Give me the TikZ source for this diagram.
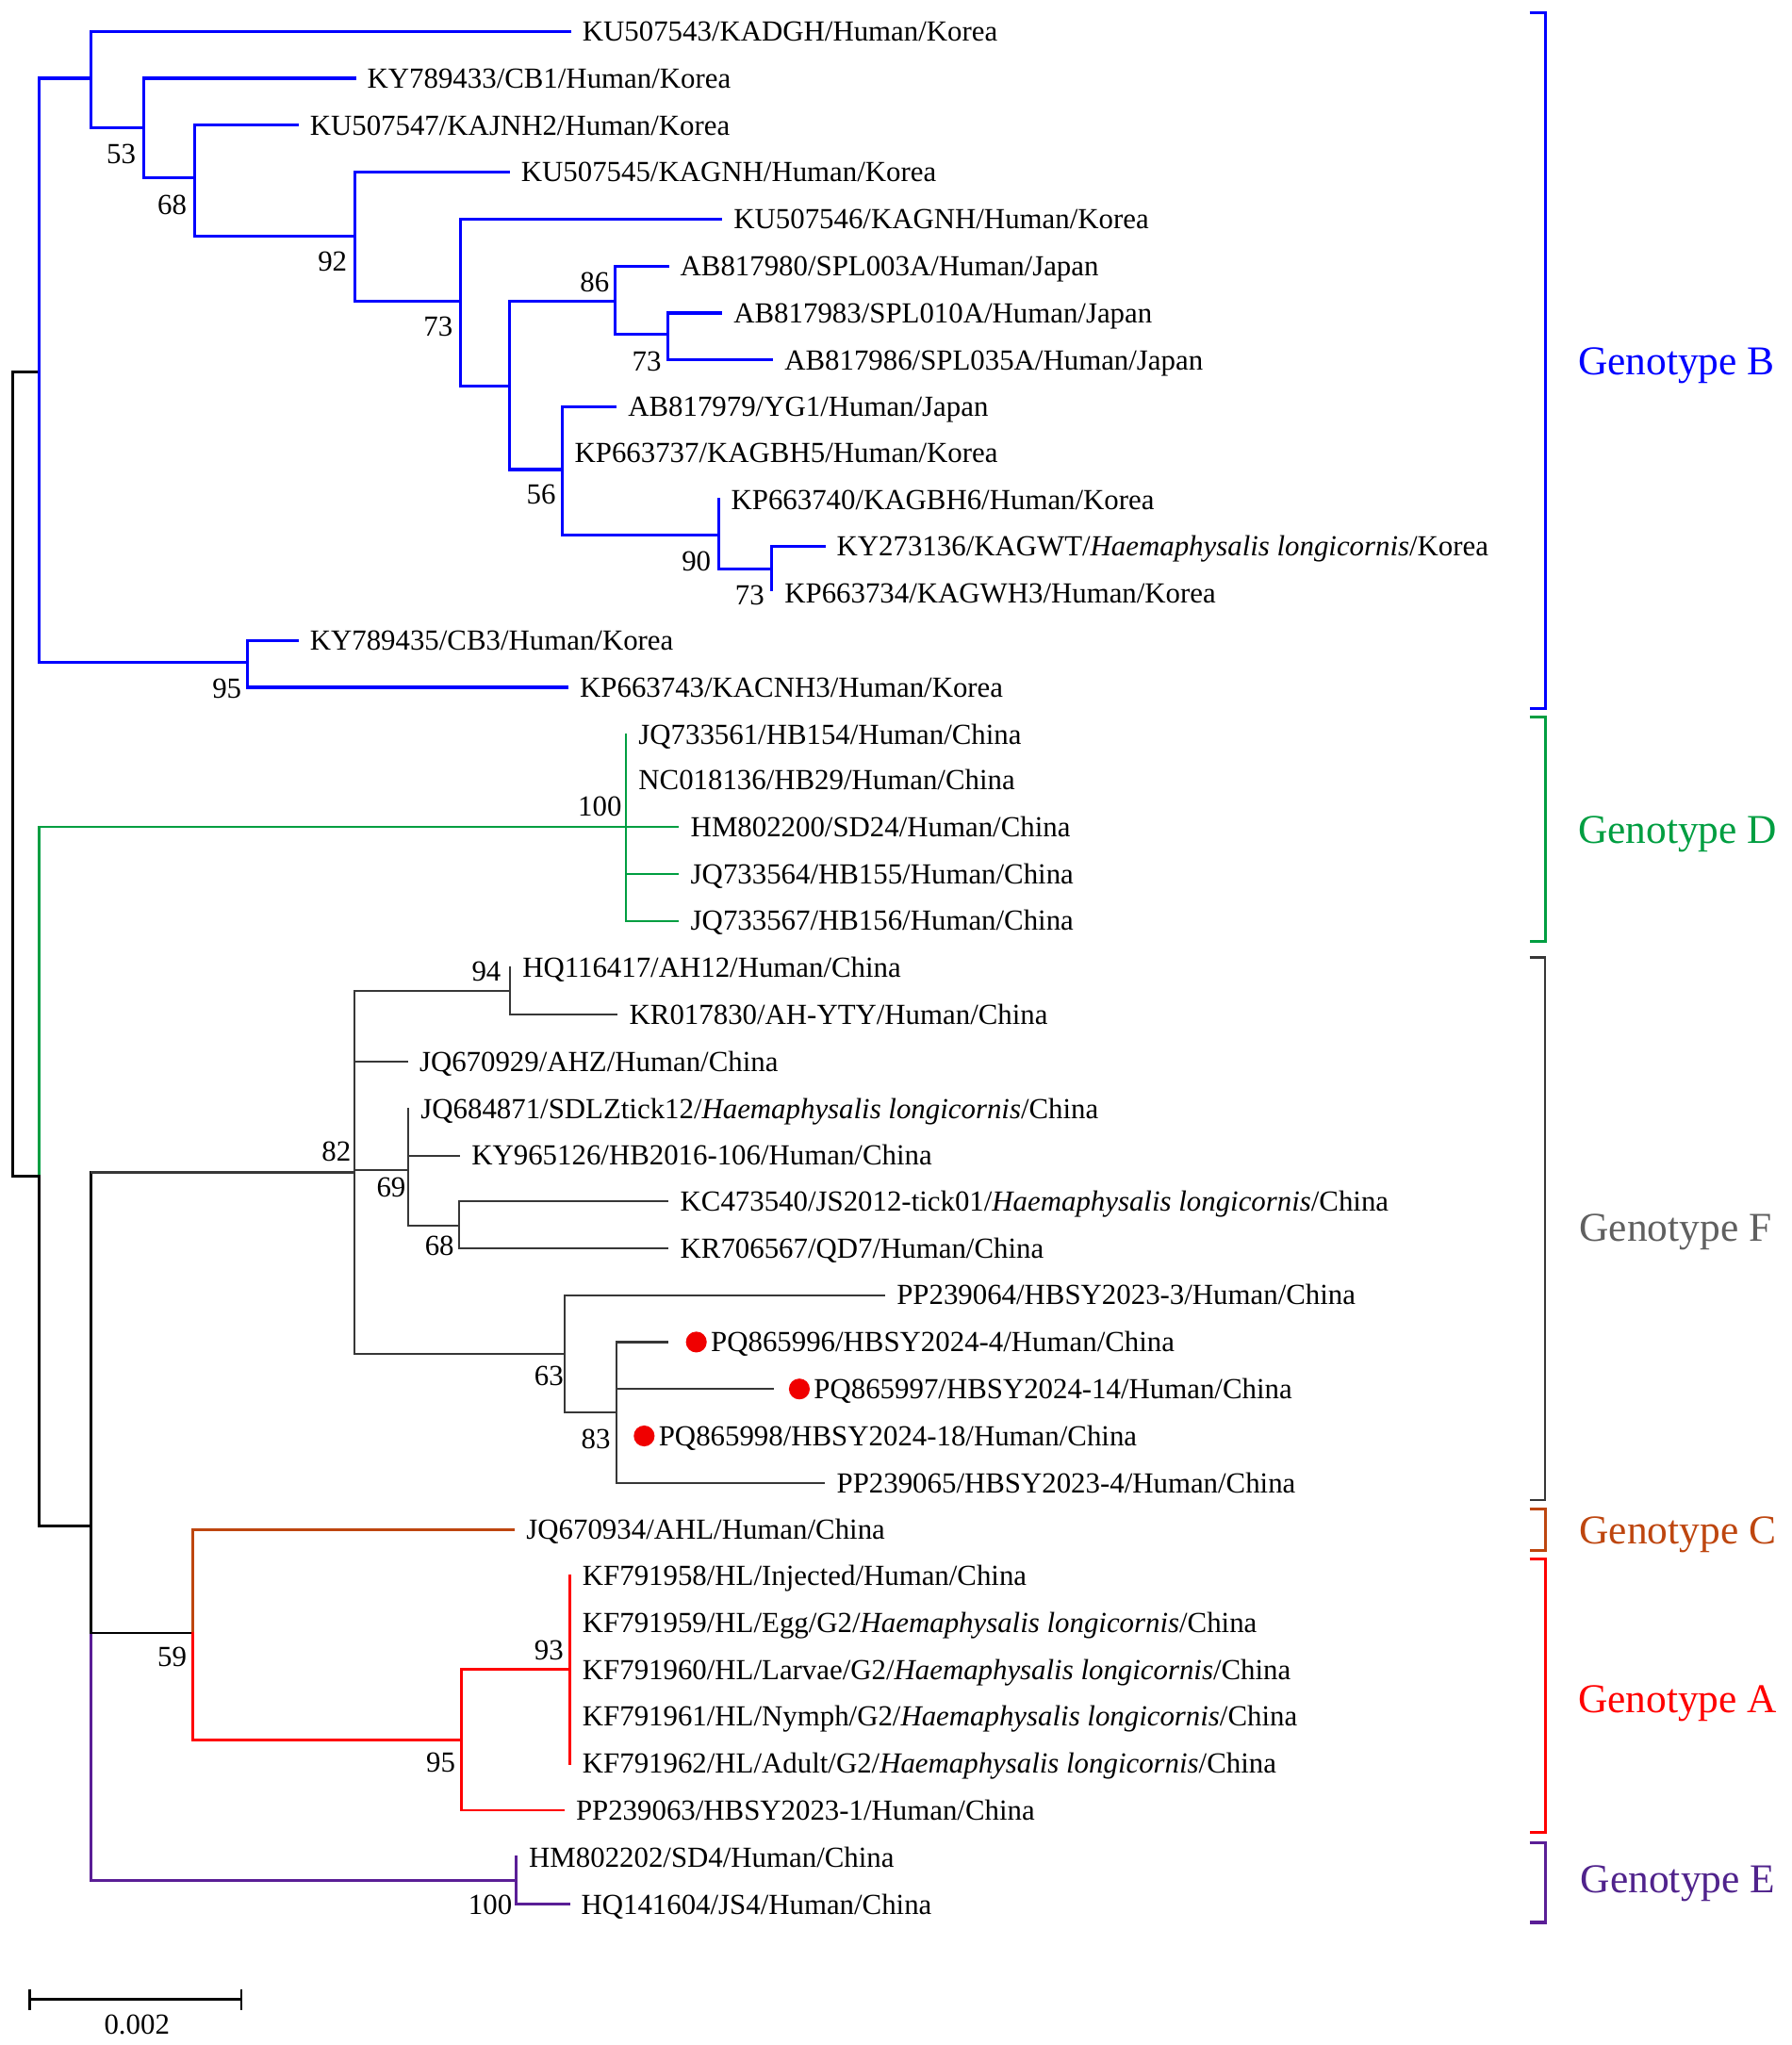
\documentclass[tikz,border=0pt]{standalone}
\usepackage{fontspec}
\setmainfont{Liberation Serif}
\definecolor{cB}{RGB}{0,0,255}
\definecolor{cD}{RGB}{0,158,65}
\definecolor{cF}{RGB}{55,55,55}
\definecolor{cFt}{RGB}{96,96,96}
\definecolor{cC}{RGB}{190,70,15}
\definecolor{cA}{RGB}{255,0,0}
\definecolor{cE}{RGB}{90,30,150}
\definecolor{cEt}{RGB}{80,35,140}
\definecolor{dotred}{RGB}{240,0,0}
\begin{document}
\begin{tikzpicture}[x=1pt,y=-1pt,line cap=rect,
 lb/.style={draw=cB,line width=2.2pt},
 lbk/.style={draw=black,line width=2.0pt},
 lD/.style={draw=cD,line width=1.6pt},
 lF/.style={draw=cF,line width=1.6pt},
 lC/.style={draw=cC,line width=1.8pt},
 lA/.style={draw=cA,line width=2.0pt},
 lE/.style={draw=cE,line width=2.0pt},
 lt/.style={anchor=base west,inner sep=0pt,yshift=-7.5pt,font=\fontsize{22.3}{26}\selectfont},
 leaf/.style={lt,xshift=9.5pt},
 bs/.style={anchor=base,inner sep=0pt,yshift=-7.5pt,font=\fontsize{22.3}{26}\selectfont},
 gt/.style={anchor=base west,inner sep=0pt,yshift=-10pt,font=\fontsize{31.4}{36}\selectfont},
 rdot/.style={circle,fill=dotred,inner sep=0pt,minimum size=16pt},
 brk/.style={line width=2.2pt,line cap=butt,line join=miter},
]
\fill[white] (0,0) rectangle (1374,1568);
\useasboundingbox (0,0) rectangle (1374,1568);

% ---------- internal nodes ----------
\coordinate (r) at (10,593);
\coordinate (nB) at (30,285);
\coordinate (n1) at (70,60);
\coordinate (n53) at (110,98);
\coordinate (n68) at (149,136);
\coordinate (n92) at (272,181);
\coordinate (n73a) at (353,231);
\coordinate (nX) at (391,296);
\coordinate (n86) at (472,231);
\coordinate (n73b) at (512,256);
\coordinate (n56) at (431,360);
\coordinate (n90) at (551,410);
\coordinate (n73c) at (592,436);
\coordinate (n95a) at (190,508);
\coordinate (nR2) at (30,902);
\coordinate (nD) at (480,634);
\coordinate (n70) at (70,1170);
\coordinate (n82) at (272,899);
\coordinate (n94) at (391,760);
\coordinate (n69) at (313,897);
\coordinate (n68b) at (352,940);
\coordinate (n63) at (433,1038);
\coordinate (n83) at (473,1083);
\coordinate (n59) at (148,1252);
\coordinate (n95b) at (354,1334);
\coordinate (n93) at (437,1280);
\coordinate (nE) at (396,1442);

% ---------- tips ----------
\coordinate (t1) at (437,24);
\coordinate (t2) at (272,60);
\coordinate (t3) at (228,96);
\coordinate (t4) at (390,132);
\coordinate (t5) at (553,168);
\coordinate (t6) at (512,204);
\coordinate (t7) at (553,240);
\coordinate (t8) at (592,276);
\coordinate (t9) at (472,312);
\coordinate (t10) at (431,347);
\coordinate (t11) at (551,383);
\coordinate (t12) at (632,419);
\coordinate (t13) at (592,452);
\coordinate (t13l) at (592,455);
\coordinate (t14) at (228,491);
\coordinate (t15) at (435,527);
\coordinate (t16) at (480,563);
\coordinate (t17) at (480,598);
\coordinate (t18) at (520,634);
\coordinate (t19) at (520,670);
\coordinate (t20) at (520,706);
\coordinate (t21) at (391,742);
\coordinate (t22) at (473,778);
\coordinate (t23) at (312,814);
\coordinate (t24) at (313,850);
\coordinate (t25) at (352,886);
\coordinate (t26) at (512,921);
\coordinate (t27) at (512,957);
\coordinate (t28) at (678,993);
\coordinate (t29) at (512,1029);
\coordinate (t30) at (593,1065);
\coordinate (t31) at (473,1101);
\coordinate (t32) at (632,1137);
\coordinate (t33) at (394,1173);
\coordinate (t34) at (437,1208);
\coordinate (t35) at (437,1244);
\coordinate (t36) at (437,1280);
\coordinate (t37) at (437,1316);
\coordinate (t38) at (437,1352);
\coordinate (t39) at (432,1388);
\coordinate (t40) at (396,1424);
\coordinate (t41) at (436,1460);

% ---------- root ----------
\draw[lbk] (r |- nB) -- (r |- nR2);
\draw[lbk] (r |- nB) -- (nB);
\draw[lbk] (r |- nR2) -- (nR2);

% ---------- genotype B ----------
\draw[lb] (nB |- n1) -- (nB |- n95a);
\draw[lb] (nB |- n1) -- (n1);
\draw[lb] (nB |- n95a) -- (n95a);
\draw[lb] (n1 |- t1) -- (n1 |- n53);
\draw[lb] (n1 |- t1) -- (t1);
\draw[lb] (n1 |- n53) -- (n53);
\draw[lb] (n53 |- t2) -- (n53 |- n68);
\draw[lb] (n53 |- t2) -- (t2);
\draw[lb] (n53 |- n68) -- (n68);
\draw[lb] (n68 |- t3) -- (n68 |- n92);
\draw[lb] (n68 |- t3) -- (t3);
\draw[lb] (n68 |- n92) -- (n92);
\draw[lb] (n92 |- t4) -- (n92 |- n73a);
\draw[lb] (n92 |- t4) -- (t4);
\draw[lb] (n92 |- n73a) -- (n73a);
\draw[lb] (n73a |- t5) -- (n73a |- nX);
\draw[lb] (n73a |- t5) -- (t5);
\draw[lb] (n73a |- nX) -- (nX);
\draw[lb] (nX |- n86) -- (nX |- n56);
\draw[lb] (nX |- n86) -- (n86);
\draw[lb] (nX |- n56) -- (n56);
\draw[lb] (n86 |- t6) -- (n86 |- n73b);
\draw[lb] (n86 |- t6) -- (t6);
\draw[lb] (n86 |- n73b) -- (n73b);
\draw[lb] (n73b |- t7) -- (n73b |- t8);
\draw[lb] (n73b |- t7) -- (t7);
\draw[lb] (n73b |- t8) -- (t8);
\draw[lb] (n56 |- t9) -- (n56 |- n90);
\draw[lb] (n56 |- t9) -- (t9);
\draw[lb] (n56 |- n90) -- (n90);
\draw[lb] (n90 |- t11) -- (n90 |- n73c);
\draw[lb] (n90 |- n73c) -- (n73c);
\draw[lb] (n73c |- t12) -- (n73c |- t13);
\draw[lb] (n73c |- t12) -- (t12);
\draw[lb] (n95a |- t14) -- (n95a |- t15);
\draw[lb] (n95a |- t14) -- (t14);
\draw[lb] (n95a |- t15) -- (t15);

% ---------- genotype D ----------
\draw[lD] (nR2 |- nD) -- (nR2);
\draw[lD] (nR2 |- nD) -- (nD);
\draw[lD] (nD |- t16) -- (nD |- t20);
\draw[lD] (nD |- t18) -- (t18);
\draw[lD] (nD |- t19) -- (t19);
\draw[lD] (nD |- t20) -- (t20);

% ---------- backbone ----------
\draw[lbk] (nR2) -- (nR2 |- n70);
\draw[lbk] (nR2 |- n70) -- (n70);
\draw[lE] (n70 |- n59) -- (n70 |- nE);
\draw[lbk] (n70 |- n82) -- (n70 |- n59);
\draw[lF] (n70 |- n82) -- (n82);
\draw[lbk] (n70 |- n59) -- (n59);
\draw[lE] (n70 |- nE) -- (nE);

% ---------- genotype F ----------
\draw[lF] (n82 |- n94) -- (n82 |- n63);
\draw[lF] (n82 |- n94) -- (n94);
\draw[lF] (n82 |- t23) -- (t23);
\draw[lF] (n82 |- n69) -- (n69);
\draw[lF] (n82 |- n63) -- (n63);
\draw[lF] (n94 |- t21) -- (n94 |- t22);
\draw[lF] (n94 |- t22) -- (t22);
\draw[lF] (n69 |- t24) -- (n69 |- n68b);
\draw[lF] (n69 |- t25) -- (t25);
\draw[lF] (n69 |- n68b) -- (n68b);
\draw[lF] (n68b |- t26) -- (n68b |- t27);
\draw[lF] (n68b |- t26) -- (t26);
\draw[lF] (n68b |- t27) -- (t27);
\draw[lF] (n63 |- t28) -- (n63 |- n83);
\draw[lF] (n63 |- t28) -- (t28);
\draw[lF] (n63 |- n83) -- (n83);
\draw[lF] (n83 |- t29) -- (n83 |- t32);
\draw[lF] (n83 |- t29) -- (t29);
\draw[lF] (n83 |- t30) -- (t30);
\draw[lF] (n83 |- t32) -- (t32);

% ---------- genotypes C and A ----------
\draw[lC] (n59 |- t33) -- (n59);
\draw[lC] (n59 |- t33) -- (t33);
\draw[lA] (n59) -- (n59 |- n95b);
\draw[lA] (n59 |- n95b) -- (n95b);
\draw[lA] (n95b |- n93) -- (n95b |- t39);
\draw[lA] (n95b |- n93) -- (n93);
\draw[lA] (n95b |- t39) -- (t39);
\draw[lA] (n93 |- t34) -- (n93 |- t38);

% ---------- genotype E ----------
\draw[lE] (nE |- t40) -- (nE |- t41);
\draw[lE] (nE |- t41) -- (t41);

% ---------- leaf labels ----------
\node[leaf] (l1) at (t1) {KU507543/KADGH/Human/Korea};
\node[leaf] (l2) at (t2) {KY789433/CB1/Human/Korea};
\node[leaf] (l3) at (t3) {KU507547/KAJNH2/Human/Korea};
\node[leaf] (l4) at (t4) {KU507545/KAGNH/Human/Korea};
\node[leaf] (l5) at (t5) {KU507546/KAGNH/Human/Korea};
\node[leaf] (l6) at (t6) {AB817980/SPL003A/Human/Japan};
\node[leaf] (l7) at (t7) {AB817983/SPL010A/Human/Japan};
\node[leaf] (l8) at (t8) {AB817986/SPL035A/Human/Japan};
\node[leaf] (l9) at (t9) {AB817979/YG1/Human/Japan};
\node[leaf] (l10) at (t10) {KP663737/KAGBH5/Human/Korea};
\node[leaf] (l11) at (t11) {KP663740/KAGBH6/Human/Korea};
\node[leaf] (l12) at (t12) {KY273136/KAGWT/\textit{Haemaphysalis longicornis}/Korea};
\node[leaf] (l13) at (t13l) {KP663734/KAGWH3/Human/Korea};
\node[leaf] (l14) at (t14) {KY789435/CB3/Human/Korea};
\node[leaf] (l15) at (t15) {KP663743/KACNH3/Human/Korea};
\node[leaf] (l16) at (t16) {JQ733561/HB154/Human/China};
\node[leaf] (l17) at (t17) {NC018136/HB29/Human/China};
\node[leaf] (l18) at (t18) {HM802200/SD24/Human/China};
\node[leaf] (l19) at (t19) {JQ733564/HB155/Human/China};
\node[leaf] (l20) at (t20) {JQ733567/HB156/Human/China};
\node[leaf] (l21) at (t21) {HQ116417/AH12/Human/China};
\node[leaf] (l22) at (t22) {KR017830/AH-YTY/Human/China};
\node[leaf] (l23) at (t23) {JQ670929/AHZ/Human/China};
\node[leaf] (l24) at (t24) {JQ684871/SDLZtick12/\textit{Haemaphysalis longicornis}/China};
\node[leaf] (l25) at (t25) {KY965126/HB2016-106/Human/China};
\node[leaf] (l26) at (t26) {KC473540/JS2012-tick01/\textit{Haemaphysalis longicornis}/China};
\node[leaf] (l27) at (t27) {KR706567/QD7/Human/China};
\node[leaf] (l28) at (t28) {PP239064/HBSY2023-3/Human/China};
\node[rdot] (d29) at (534,1029) {};
\node[lt] (l29) at (545,1029) {PQ865996/HBSY2024-4/Human/China};
\node[rdot] (d30) at (613,1065) {};
\node[lt] (l30) at (624,1065) {PQ865997/HBSY2024-14/Human/China};
\node[rdot] (d31) at (494,1101) {};
\node[lt] (l31) at (505,1101) {PQ865998/HBSY2024-18/Human/China};
\node[leaf] (l32) at (t32) {PP239065/HBSY2023-4/Human/China};
\node[leaf] (l33) at (t33) {JQ670934/AHL/Human/China};
\node[leaf] (l34) at (t34) {KF791958/HL/Injected/Human/China};
\node[leaf] (l35) at (t35) {KF791959/HL/Egg/G2/\textit{Haemaphysalis longicornis}/China};
\node[leaf] (l36) at (t36) {KF791960/HL/Larvae/G2/\textit{Haemaphysalis longicornis}/China};
\node[leaf] (l37) at (t37) {KF791961/HL/Nymph/G2/\textit{Haemaphysalis longicornis}/China};
\node[leaf] (l38) at (t38) {KF791962/HL/Adult/G2/\textit{Haemaphysalis longicornis}/China};
\node[leaf] (l39) at (t39) {PP239063/HBSY2023-1/Human/China};
\node[leaf] (l40) at (t40) {HM802202/SD4/Human/China};
\node[leaf] (l41) at (t41) {HQ141604/JS4/Human/China};

% ---------- bootstrap values ----------
\node[bs] (b1) at (93,118) {53};
\node[bs] (b2) at (132,157) {68};
\node[bs] (b3) at (255,200) {92};
\node[bs] (b4) at (336,250) {73};
\node[bs] (b5) at (456,216) {86};
\node[bs] (b6) at (496,277) {73};
\node[bs] (b7) at (415,379) {56};
\node[bs] (b8) at (534,430) {90};
\node[bs] (b9) at (575,456) {73};
\node[bs] (b10) at (174,528) {95};
\node[bs] (b11) at (460,618) {100};
\node[bs] (b12) at (373,745) {94};
\node[bs] (b13) at (258,883) {82};
\node[bs] (b14) at (300,910) {69};
\node[bs] (b15) at (337,955) {68};
\node[bs] (b16) at (421,1055) {63};
\node[bs] (b17) at (457,1103) {83};
\node[bs] (b18) at (132,1270) {59};
\node[bs] (b19) at (421,1265) {93};
\node[bs] (b20) at (338,1351) {95};
\node[bs] (b21) at (376,1460) {100};

% ---------- genotype brackets ----------
\draw[brk,cB] (1173,10) -- (1185,10) -- (1185,543) -- (1173,543);
\draw[brk,cD] (1173,550) -- (1185,550) -- (1185,722) -- (1173,722);
\draw[brk,cF,line width=1.7pt] (1173,734) -- (1185,734) -- (1185,1150) -- (1173,1150);
\draw[brk,cC] (1173,1157) -- (1185,1157) -- (1185,1189) -- (1173,1189);
\draw[brk,cA] (1173,1195) -- (1185,1195) -- (1185,1405) -- (1173,1405);
\draw[brk,cE] (1173,1413) -- (1185,1413) -- (1185,1474) -- (1173,1474);
\node[gt,text=cB] (gB) at (1210,277) {Genotype B};
\node[gt,text=cD] (gD) at (1210,637) {Genotype D};
\node[gt,text=cFt] (gF) at (1211,942) {Genotype F};
\node[gt,text=cC] (gC) at (1211,1174) {Genotype C};
\node[gt,text=cA] (gA) at (1210,1303) {Genotype A};
\node[gt,text=cEt] (gE) at (1212,1441) {Genotype E};

% ---------- scale bar ----------
\coordinate (s1) at (23,1533);
\coordinate (s2) at (185,1533);
\draw[lbk,line cap=butt] (s1) -- (s2);
\draw[lbk,line cap=butt] (s1) ++(0,-8) -- ++(0,16);
\draw[lbk,line cap=butt] (s2) ++(0,-8) -- ++(0,16);
\node[bs] (sbl) at (105,1552) {0.002};
\end{tikzpicture}
\end{document}
